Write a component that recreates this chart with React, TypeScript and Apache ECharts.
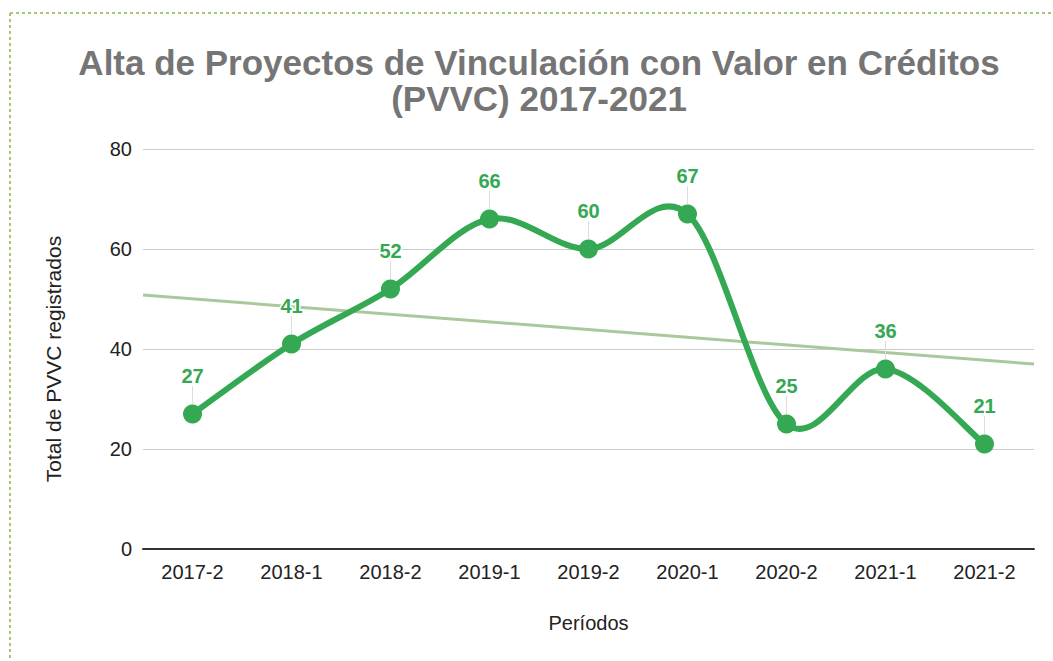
import React, { useEffect, useRef } from "react";
import * as echarts from "echarts";

const categories = ["2017-2", "2018-1", "2018-2", "2019-1", "2019-2", "2020-1", "2020-2", "2021-1", "2021-2"];
const values = [27, 41, 52, 66, 60, 67, 25, 36, 21];
const yTicks = { min: 0, max: 80, interval: 20 };
const titleLines = ["Alta de Proyectos de Vinculación con Valor en Créditos", "(PVVC) 2017-2021"];
const yName = "Total de PVVC registrados";
const xName = "Períodos";

const FONT = "'Liberation Sans', Arial, sans-serif";
const GREEN = "#34a853";
const TREND = "#a9c99c";

function trendPoints(): number[][] {
  const n = values.length;
  const mx = (n - 1) / 2;
  const my = values.reduce((a, b) => a + b, 0) / n;
  let sxy = 0;
  let sxx = 0;
  values.forEach((v, i) => {
    sxy += (i - mx) * (v - my);
    sxx += (i - mx) * (i - mx);
  });
  const slope = sxy / sxx;
  const x0 = -0.5;
  const x1 = n - 0.5;
  return [
    [x0, my + slope * (x0 - mx)],
    [x1, my + slope * (x1 - mx)],
  ];
}

export default function App() {
  const ref = useRef<HTMLDivElement>(null);
  useEffect(() => {
    if (!ref.current) return;
    const chart = echarts.init(ref.current, undefined, { renderer: "svg" });
    const n = values.length;
    const option: any = {
      animation: false,
      backgroundColor: "#fff",
      textStyle: { fontFamily: FONT },
      grid: { left: 143, right: 19, top: 149, bottom: 112, containLabel: false },
      graphic: [
        {
          type: "line",
          shape: { x1: 10, y1: 13, x2: 10, y2: 661 },
          style: { stroke: "#a6c872", lineWidth: 2, lineDash: [3, 3] },
          silent: true,
        },
        {
          type: "line",
          shape: { x1: 10, y1: 13, x2: 1053, y2: 13 },
          style: { stroke: "#a6c872", lineWidth: 2, lineDash: [3, 3] },
          silent: true,
        },
        {
          type: "text",
          x: 539,
          y: 44,
          style: {
            text: titleLines.join("\n"),
            font: `bold 35px ${FONT}`,
            fill: "#757575",
            align: "center",
            lineHeight: 36,
          },
          silent: true,
        },
        {
          type: "text",
          x: 53,
          y: 359,
          rotation: Math.PI / 2,
          style: {
            text: yName,
            font: `21px ${FONT}`,
            fill: "#222",
            align: "center",
            verticalAlign: "middle",
          },
          silent: true,
        },
      ],
      xAxis: [
        {
          type: "category",
          data: categories,
          boundaryGap: true,
          name: xName,
          nameLocation: "middle",
          nameGap: 64,
          nameTextStyle: { fontSize: 20, color: "#222", fontFamily: FONT },
          axisLine: { show: true, lineStyle: { color: "#333", width: 2 } },
          axisTick: { show: false },
          axisLabel: { fontSize: 20, color: "#222", margin: 13, fontFamily: FONT },
        },
        {
          type: "value",
          min: -0.5,
          max: categories.length - 0.5,
          show: false,
        },
      ],
      yAxis: {
        type: "value",
        min: yTicks.min,
        max: yTicks.max,
        interval: yTicks.interval,
        axisLine: { show: false },
        axisTick: { show: false },
        axisLabel: { fontSize: 20, color: "#222", margin: 11, fontFamily: FONT },
        splitLine: { lineStyle: { color: "#cccccc", width: 1 } },
      },
      series: [
        {
          type: "line",
          xAxisIndex: 1,
          data: trendPoints(),
          showSymbol: false,
          symbol: "none",
          lineStyle: { color: TREND, width: 3 },
          z: 1,
          silent: true,
        },
        {
          type: "custom",
          data: values.map((v, i) => [i, v]),
          encode: { x: 0, y: 1 },
          z: 2,
          silent: true,
          renderItem: (params: any, api: any) => {
            const p = api.coord([api.value(0), api.value(1)]);
            return {
              type: "line",
              shape: { x1: p[0], y1: p[1] - 10, x2: p[0], y2: p[1] - 28 },
              style: { stroke: "#dddddd", lineWidth: 1 },
            };
          },
        },
        {
          type: "custom",
          data: values.map((v, i) => [i, v]),
          encode: { x: 0, y: 1 },
          z: 3,
          silent: true,
          renderItem: (params: any, api: any) => {
            const i = params.dataIndex;
            if (i >= n - 1) return { type: "group", children: [] };
            const pt = (j: number) => {
              const k = Math.max(0, Math.min(n - 1, j));
              return api.coord([k, values[k]]);
            };
            const p0 = pt(i - 1);
            const p1 = pt(i);
            const p2 = pt(i + 1);
            const p3 = pt(i + 2);
            return {
              type: "bezierCurve",
              shape: {
                x1: p1[0],
                y1: p1[1],
                cpx1: p1[0] + (p2[0] - p0[0]) / 6,
                cpy1: p1[1] + (p2[1] - p0[1]) / 6,
                cpx2: p2[0] - (p3[0] - p1[0]) / 6,
                cpy2: p2[1] - (p3[1] - p1[1]) / 6,
                x2: p2[0],
                y2: p2[1],
              },
              style: { stroke: GREEN, lineWidth: 6, fill: null, lineCap: "round" },
            };
          },
        },
        {
          type: "line",
          data: values,
          symbol: "circle",
          symbolSize: 19,
          itemStyle: { color: GREEN },
          lineStyle: { color: GREEN, width: 0, opacity: 0 },
          z: 4,
          label: {
            show: true,
            position: "top",
            distance: 19,
            fontSize: 20,
            fontWeight: "bold",
            color: GREEN,
            fontFamily: FONT,
            textBorderColor: "#fff",
            textBorderWidth: 3,
          },
        },
      ],
    };
    chart.setOption(option);
    return () => chart.dispose();
  }, []);
  return (
    <div
      ref={ref}
      style={{ position: "fixed", left: 0, top: 0, width: 1053, height: 661, background: "#fff" }}
    />
  );
}
